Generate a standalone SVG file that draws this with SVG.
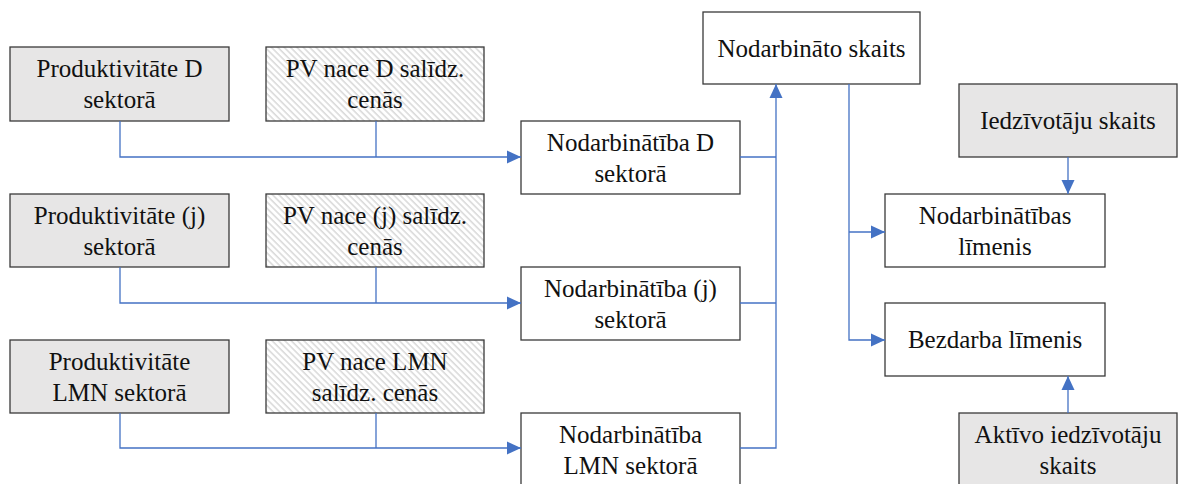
<svg xmlns="http://www.w3.org/2000/svg" width="1178" height="484" viewBox="0 0 1178 484">
<defs>
<pattern id="hatch" patternUnits="userSpaceOnUse" width="4.5" height="4.5" patternTransform="rotate(-45)">
<rect width="4.5" height="4.5" fill="#ffffff"/>
<line x1="1" y1="0" x2="1" y2="4.5" stroke="#d6d6d6" stroke-width="1.4"/>
</pattern>
<marker id="arr" markerUnits="userSpaceOnUse" markerWidth="14" markerHeight="14" viewBox="0 0 14 14" refX="14" refY="7" orient="auto">
<path d="M0,0.5 L14,7 L0,13.5 Z" fill="#4472C4"/>
</marker>
</defs>
<style>
.box{stroke:#3a3a3a;stroke-width:1.3}
.g{fill:#e7e6e6}
.w{fill:#ffffff}
.h{fill:url(#hatch)}
.c{fill:none;stroke:#4472C4;stroke-width:1.3}
</style>
<rect width="1178" height="484" fill="#ffffff"/>
<g font-family="'Liberation Serif', 'DejaVu Serif', serif" font-size="25" fill="#111" text-anchor="middle">
<g id="prod-d"><rect class="box g" x="10" y="47" width="219" height="74"/><text x="119.5" y="77">Produktivitāte D</text><text x="119.5" y="108">sektorā</text></g>
<g id="pv-d"><rect class="box h" x="266" y="47" width="218" height="74"/><text x="375" y="77">PV nace D salīdz.</text><text x="375" y="108">cenās</text></g>
<g id="nod-d"><rect class="box w" x="521" y="121" width="219" height="73"/><text x="630.5" y="150.5">Nodarbinātība D</text><text x="630.5" y="181.5">sektorā</text></g>

<g id="prod-j"><rect class="box g" x="10" y="194" width="219" height="73"/><text x="119.5" y="223.5">Produktivitāte (j)</text><text x="119.5" y="254.5">sektorā</text></g>
<g id="pv-j"><rect class="box h" x="266" y="194" width="218" height="73"/><text x="375" y="223.5">PV nace (j) salīdz.</text><text x="375" y="254.5">cenās</text></g>
<g id="nod-j"><rect class="box w" x="521" y="267" width="219" height="73"/><text x="630.5" y="296.5">Nodarbinātība (j)</text><text x="630.5" y="327.5">sektorā</text></g>

<g id="prod-lmn"><rect class="box g" x="10" y="340" width="219" height="73"/><text x="119.5" y="369.5">Produktivitāte</text><text x="119.5" y="400.5">LMN sektorā</text></g>
<g id="pv-lmn"><rect class="box h" x="266" y="340" width="218" height="73"/><text x="375" y="369.5">PV nace LMN</text><text x="375" y="400.5">salīdz. cenās</text></g>
<g id="nod-lmn"><rect class="box w" x="521" y="413" width="219" height="73"/><text x="630.5" y="442.5">Nodarbinātība</text><text x="630.5" y="473.5">LMN sektorā</text></g>

<g id="nod-skaits"><rect class="box w" x="703" y="12" width="217" height="72"/><text x="811.5" y="56.5">Nodarbināto skaits</text></g>
<g id="iedz"><rect class="box g" x="959" y="84" width="218" height="73"/><text x="1068" y="129">Iedzīvotāju skaits</text></g>
<g id="nod-lim"><rect class="box w" x="885" y="194" width="220" height="73"/><text x="995" y="223.5">Nodarbinātības</text><text x="995" y="254.5">līmenis</text></g>
<g id="bezd"><rect class="box w" x="885" y="303" width="220" height="73"/><text x="995" y="348">Bezdarba līmenis</text></g>
<g id="akt"><rect class="box g" x="959" y="413" width="218" height="73"/><text x="1068" y="442.5">Aktīvo iedzīvotāju</text><text x="1068" y="473.5">skaits</text></g>
</g>
<g id="connectors">
<path class="c" d="M120,121 V157 H521" marker-end="url(#arr)"/>
<path class="c" d="M376,121 V157"/>
<path class="c" d="M120,267 V303 H521" marker-end="url(#arr)"/>
<path class="c" d="M376,267 V303"/>
<path class="c" d="M120,413 V448 H521" marker-end="url(#arr)"/>
<path class="c" d="M376,413 V448"/>
<path class="c" d="M740,157 H776"/>
<path class="c" d="M740,303 H776"/>
<path class="c" d="M740,448 H776 V84" marker-end="url(#arr)"/>
<path class="c" d="M849,84 V340 H885" marker-end="url(#arr)"/>
<path class="c" d="M849,232 H885" marker-end="url(#arr)"/>
<path class="c" d="M1068,157 V194" marker-end="url(#arr)"/>
<path class="c" d="M1068,413 V376" marker-end="url(#arr)"/>
</g>
</svg>
